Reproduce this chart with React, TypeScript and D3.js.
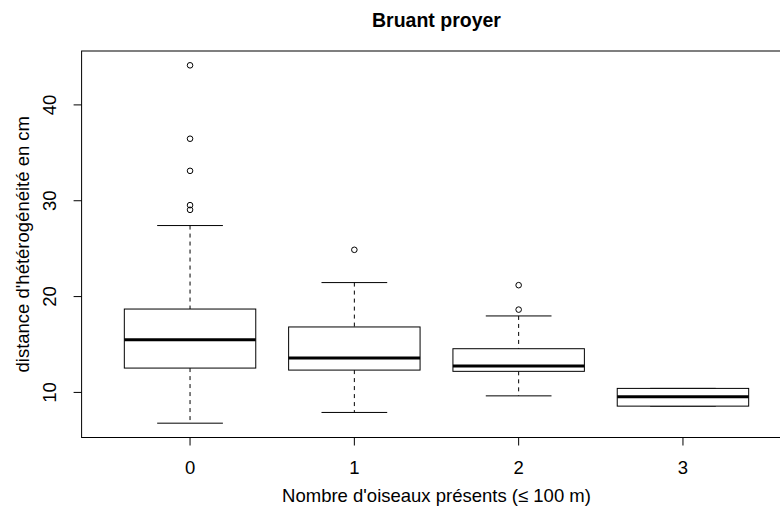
import React from "react";
import * as d3 from "d3";

const categories = ["0", "1", "2", "3"];
const lowerWhisker = [6.79, 7.91, 9.64, 8.57];
const q1 = [12.54, 12.33, 12.2, 8.57];
const median = [15.5, 13.59, 12.75, 9.54];
const q3 = [18.7, 16.83, 14.56, 10.42];
const upperWhisker = [27.41, 21.46, 17.98, 10.42];
const outliers: number[][] = [
  [44.13, 36.47, 33.12, 29.54, 29.05],
  [24.88],
  [21.19, 18.64],
  [],
];
const yTicks = [10, 20, 30, 40];
const title = "Bruant proyer";
const xLabel = "Nombre d'oiseaux présents (≤ 100 m)";
const yLabel = "distance d'hétérogénéité en cm";

const W = 780;
const H = 508;
const left = 81.6;
const right = 791.4;
const top = 51;
const bottom = 437.5;
const font = "Liberation Sans, Arial, Helvetica, sans-serif";
const fs = 18.5;

export default function App() {
  const n = categories.length;
  const x = d3.scaleLinear().domain([0.5 - 0.04 * n, n + 0.5 + 0.04 * n]).range([left, right]);
  const allVals = [...lowerWhisker, ...upperWhisker, ...outliers.flat()];
  const lo = d3.min(allVals)!;
  const hi = d3.max(allVals)!;
  const ext = (hi - lo) * 0.04;
  const y = d3.scaleLinear().domain([lo - ext, hi + ext]).range([bottom, top]);
  const bw = (x(1.4) - x(1)) * 2; // boxwex 0.8
  const cap = bw / 4;

  return (
    <svg width={W} height={H} style={{ position: "absolute", left: 0, top: 0, background: "#fff" }}>
      <rect x={0} y={0} width={W} height={H} fill="#fff" />
      <text x={(left + right) / 2} y={27} textAnchor="middle" fontFamily={font} fontWeight="bold" fontSize={19.5}>
        {title}
      </text>
      {categories.map((c, i) => {
        const cx = x(i + 1);
        return (
          <g key={c}>
            <line x1={cx} x2={cx} y1={y(upperWhisker[i])} y2={y(q3[i])} stroke="#000" strokeDasharray="4,4" />
            <line x1={cx} x2={cx} y1={y(q1[i])} y2={y(lowerWhisker[i])} stroke="#000" strokeDasharray="4,4" />
            <line x1={cx - cap} x2={cx + cap} y1={y(upperWhisker[i])} y2={y(upperWhisker[i])} stroke="#000" />
            <line x1={cx - cap} x2={cx + cap} y1={y(lowerWhisker[i])} y2={y(lowerWhisker[i])} stroke="#000" />
            <rect
              x={cx - bw / 2}
              y={y(q3[i])}
              width={bw}
              height={y(q1[i]) - y(q3[i])}
              fill="#fff"
              stroke="#000"
            />
            <line x1={cx - bw / 2} x2={cx + bw / 2} y1={y(median[i])} y2={y(median[i])} stroke="#000" strokeWidth={3} />
            {outliers[i].map((v, j) => (
              <circle key={j} cx={cx} cy={y(v)} r={2.8} fill="none" stroke="#000" strokeWidth={1} />
            ))}
          </g>
        );
      })}
      <rect x={left} y={top} width={right - left} height={bottom - top} fill="none" stroke="#000" />
      {yTicks.map((t) => (
        <g key={t}>
          <line x1={left} x2={left - 8} y1={y(t)} y2={y(t)} stroke="#000" />
          <text
            transform={`translate(${left - 26},${y(t)}) rotate(-90)`}
            textAnchor="middle"
            fontFamily={font}
            fontSize={fs}
          >
            {t}
          </text>
        </g>
      ))}
      {categories.map((c, i) => (
        <g key={c}>
          <line x1={x(i + 1)} x2={x(i + 1)} y1={bottom} y2={bottom + 8} stroke="#000" />
          <text x={x(i + 1)} y={474} textAnchor="middle" fontFamily={font} fontSize={fs}>
            {c}
          </text>
        </g>
      ))}
      <text x={(left + right) / 2} y={502} textAnchor="middle" fontFamily={font} fontSize={fs}>
        {xLabel}
      </text>
      <text
        transform={`translate(${29},${(top + bottom) / 2}) rotate(-90)`}
        textAnchor="middle"
        fontFamily={font}
        fontSize={fs}
      >
        {yLabel}
      </text>
    </svg>
  );
}
